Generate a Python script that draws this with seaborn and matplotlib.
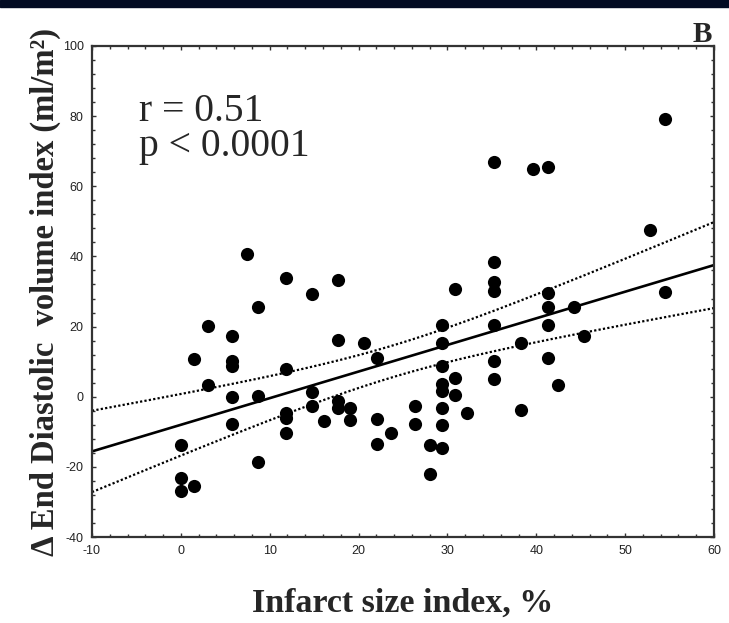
import matplotlib
matplotlib.use("Agg")
import matplotlib.pyplot as plt
import seaborn as sns
import numpy as np
import pandas as pd
from matplotlib.ticker import MultipleLocator

# Infarct size index (%) and change in end diastolic volume index (ml/m2)
infarct_size = [
    0, 0, 0, 1.5, 1.5, 3, 3, 5.7, 5.7, 5.7, 5.7, 5.7, 7.5, 8.7, 8.7, 8.7,
    11.8, 11.8, 11.8, 11.8, 11.8, 14.8, 14.8, 14.8, 16.1, 17.7, 17.7, 17.7, 17.7,
    19, 19, 20.6, 22.1, 22.1, 22.1, 23.6, 26.4, 26.4, 28, 28,
    29.4, 29.4, 29.4, 29.4, 29.4, 29.4, 29.4, 29.4, 30.9, 30.9, 30.9, 32.2,
    35.2, 35.2, 35.2, 35.2, 35.2, 35.2, 35.2, 38.3, 38.3, 39.6,
    41.3, 41.3, 41.3, 41.3, 41.3, 42.5, 44.2, 45.4, 52.8, 54.5, 54.5,
]
delta_edvi = [
    -13.9, -23.1, -27, -25.5, 10.7, 20.3, 3.3, 17.2, 10.2, 8.8, 0, -7.7, 40.7, 25.5, 0.1, -18.5,
    33.9, 7.8, -4.6, -6.1, -10.4, 29.3, 1.4, -2.7, -7.0, 33.2, 16.1, -1.3, -3.2,
    -3.2, -6.6, 15.2, 10.9, -6.4, -13.5, -10.4, -2.7, -7.8, -13.9, -21.9,
    20.5, 15.3, 8.8, 3.6, 1.6, -3.1, -8.0, -14.7, 30.8, 5.2, 0.4, -4.6,
    66.9, 38.3, 32.6, 30.1, 20.4, 10.2, 5.1, 15.2, -3.8, 65.0,
    65.5, 29.5, 25.5, 20.5, 10.9, 3.3, 25.5, 17.2, 47.6, 30.0, 79.2,
]

x_ticks = [-10, 0, 10, 20, 30, 40, 50, 60]
y_ticks = [-40, -20, 0, 20, 40, 60, 80, 100]

df = pd.DataFrame({"size": infarct_size, "edvi": delta_edvi})

# Least squares fit with 95% confidence band of the mean
x = np.array(infarct_size)
y = np.array(delta_edvi)
n = len(x)
slope, intercept = np.polyfit(x, y, 1)
resid = y - (slope * x + intercept)
s = np.sqrt(np.sum(resid ** 2) / (n - 2))
sxx = np.sum((x - x.mean()) ** 2)
t_crit = 1.994  # t(0.975, df=71)
xs = np.linspace(-10, 60, 200)
fit = slope * xs + intercept
half = t_crit * s * np.sqrt(1 / n + (xs - x.mean()) ** 2 / sxx)
band = pd.DataFrame({"x": xs, "fit": fit, "lo": fit - half, "hi": fit + half})

sns.set_style("ticks")
plt.rcParams["axes.unicode_minus"] = False
fig = plt.figure(figsize=(7.29, 6.23), dpi=100)
ax = fig.add_axes([0.1262, 0.138, 0.8532, 0.7882])

sns.scatterplot(data=df, x="size", y="edvi", ax=ax, color="black", s=90,
                edgecolor="black", linewidth=0, zorder=3)
sns.lineplot(data=band, x="x", y="fit", ax=ax, color="black", linewidth=1.9)
sns.lineplot(data=band, x="x", y="hi", ax=ax, color="black", linewidth=1.6,
             linestyle=(0, (1, 1)))
sns.lineplot(data=band, x="x", y="lo", ax=ax, color="black", linewidth=1.6,
             linestyle=(0, (1, 1)))

ax.set_xlim(-10, 60)
ax.set_ylim(-40, 100)
ax.set_xticks(x_ticks)
ax.set_yticks(y_ticks)
ax.xaxis.set_minor_locator(MultipleLocator(2))
ax.yaxis.set_minor_locator(MultipleLocator(4))
ax.tick_params(which="both", direction="in", top=True, right=True,
               labeltop=False, labelright=False, color="#333333")
ax.tick_params(which="major", length=3, width=1)
ax.tick_params(which="minor", length=2, width=1)
ax.tick_params(axis="both", labelsize=9, labelcolor="#222222", pad=6)
for lab in ax.get_xticklabels() + ax.get_yticklabels():
    lab.set_family("Liberation Sans")
for side in ax.spines.values():
    side.set_linewidth(1.6)
    side.set_color("#333333")

ax.set_xlabel("Infarct size index, %", family="Liberation Serif",
              fontweight="bold", fontsize=24.5, labelpad=22)
ax.set_ylabel("Δ End Diastolic  volume index (ml/m²)", family="Liberation Serif",
              fontweight="bold", fontsize=23.5, labelpad=1)

ax.text(0.075, 0.757, "r = 0.51\np < 0.0001", transform=ax.transAxes,
        family="Liberation Serif", fontsize=28.5, linespacing=0.95,
        va="bottom", ha="left")
fig.text(0.977, 1 - 42 / 623, "B", family="Liberation Serif", fontweight="bold",
         fontsize=21, ha="right", va="baseline")

# dark strip along the top edge
fig.add_artist(plt.Rectangle((0, 1 - 7 / 623), 1, 7 / 623,
                             transform=fig.transFigure, color="#020b22"))

fig.savefig("out.png", dpi=100)
